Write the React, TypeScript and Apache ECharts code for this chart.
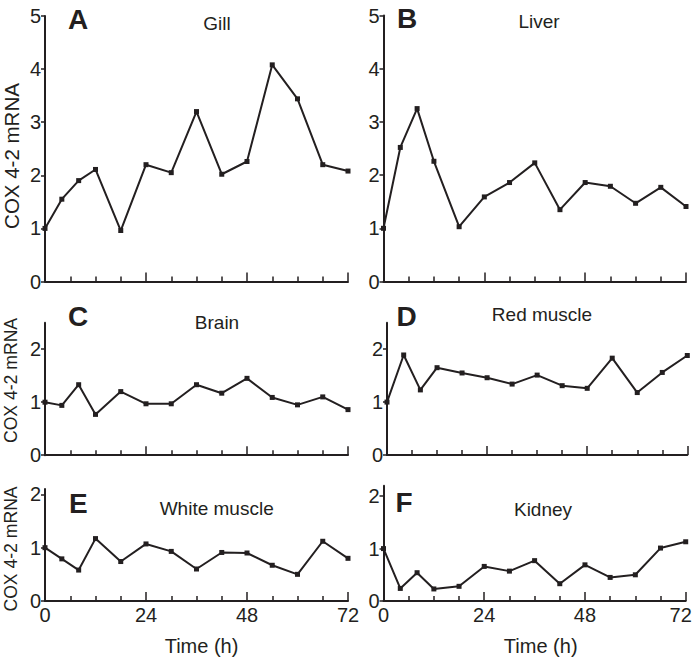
import React, { useEffect, useRef } from "react";
import * as echarts from "echarts";

const times = [0, 4, 8, 12, 18, 24, 30, 36, 42, 48, 54, 60, 66, 72];
const gill = [1.0, 1.55, 1.9, 2.11, 0.96, 2.2, 2.05, 3.2, 2.02, 2.26, 4.08, 3.44, 2.2, 2.08];
const liver = [1.0, 2.52, 3.25, 2.26, 1.03, 1.59, 1.86, 2.23, 1.35, 1.86, 1.79, 1.47, 1.77, 1.41];
const brain = [1.0, 0.94, 1.33, 0.77, 1.2, 0.97, 0.97, 1.33, 1.17, 1.45, 1.09, 0.95, 1.1, 0.86];
const redMuscle = [1.0, 1.89, 1.23, 1.65, 1.55, 1.46, 1.34, 1.51, 1.31, 1.26, 1.83, 1.18, 1.56, 1.88];
const whiteMuscle = [1.0, 0.79, 0.58, 1.17, 0.74, 1.07, 0.93, 0.6, 0.91, 0.9, 0.67, 0.5, 1.12, 0.8];
const kidney = [1.0, 0.24, 0.54, 0.23, 0.28, 0.66, 0.57, 0.77, 0.33, 0.69, 0.45, 0.5, 1.01, 1.13];

const panelLetters = ["A", "B", "C", "D", "E", "F"];
const panelNames = ["Gill", "Liver", "Brain", "Red muscle", "White muscle", "Kidney"];
const panelSeries = [gill, liver, brain, redMuscle, whiteMuscle, kidney];
const yMax = [5, 5, 2.5, 2.5, 2.1, 2.2];
const yTicksBig = [0, 1, 2, 3, 4, 5];
const yTicksSmall = [0, 1, 2];
const xTickLabels = [0, 24, 48, 72];
const yName = "COX 4-2 mRNA";
const xName = "Time (h)";

const INK = "#231f20";
const FONT = "Liberation Sans, Arial, Helvetica, sans-serif";

const grids = [
  { left: 45, top: 16, width: 303, height: 265.5 },
  { left: 383.5, top: 15.5, width: 302.5, height: 266 },
  { left: 45, top: 322.7, width: 303, height: 132.5 },
  { left: 387, top: 322.7, width: 300.3, height: 132.3 },
  { left: 45, top: 489, width: 303, height: 112 },
  { left: 383.5, top: 485.7, width: 302.2, height: 115.3 },
];

const letterPos = [
  [68, 19.5],
  [397, 18.5],
  [68, 316],
  [396.5, 316.5],
  [69, 503],
  [395.5, 502.5],
];
const namePos = [
  [217, 23.3],
  [539, 21],
  [217, 322],
  [542, 314.7],
  [216.7, 508.3],
  [543, 509],
];
const yNamePos = [
  [11, 156, 20.5],
  [11, 380.5, 17.6],
  [11, 549, 17.6],
];

function textEl(x: number, y: number, text: string, size: number, weight: string, align: string, rotation = 0) {
  return {
    type: "text",
    x,
    y,
    rotation,
    silent: true,
    style: {
      text,
      fill: INK,
      stroke: "none",
      lineWidth: 0,
      fontSize: size,
      fontFamily: FONT,
      fontWeight: weight,
      align,
      verticalAlign: "middle",
      textAlign: align,
      textVerticalAlign: "middle",
    },
  };
}

export default function App() {
  const ref = useRef<HTMLDivElement>(null);
  useEffect(() => {
    document.body.style.margin = "0";
    if (!ref.current) return;
    const chart = echarts.init(ref.current, undefined, { renderer: "svg" });

    const xAxis = grids.map((_, i) => ({
      type: "value",
      gridIndex: i,
      min: 0,
      max: 72,
      interval: 24,
      axisLine: { show: true, onZero: false, lineStyle: { color: INK, width: 2 } },
      axisTick: { show: true, inside: true, length: 9, lineStyle: { color: INK, width: 1.5 } },
      minorTick: { show: true, splitNumber: 4, length: 5, lineStyle: { color: INK, width: 1.5 } },
      splitLine: { show: false },
      minorSplitLine: { show: false },
      axisLabel: {
        show: i >= 4,
        color: INK,
        fontSize: 20,
        fontFamily: FONT,
        fontWeight: "normal",
        margin: 4,
        customValues: xTickLabels,
        formatter: (v: number) => (v === 72 && i === 5 ? "{r|72}" : String(v)),
        rich: {
          r: { fontSize: 20, fontFamily: FONT, color: INK, padding: [0, 10, 0, 0] },
        },
      },
    }));

    const yAxis = grids.map((_, i) => {
      const ticks = i < 2 ? yTicksBig : yTicksSmall;
      return {
        type: "value",
        gridIndex: i,
        min: 0,
        max: yMax[i],
        interval: 1,
        axisLine: { show: true, lineStyle: { color: INK, width: 2 } },
        axisTick: { show: true, inside: false, length: 4, lineStyle: { color: INK, width: 1.5 }, customValues: ticks },
        splitLine: { show: false },
        axisLabel: {
          show: true,
          color: INK,
          fontSize: 20,
          fontFamily: FONT,
          fontWeight: "normal",
          margin: 4,
          customValues: ticks,
        },
      };
    });

    const series = panelSeries.map((vals, i) => ({
      type: "line",
      xAxisIndex: i,
      yAxisIndex: i,
      data: times.map((t, j) => [t, vals[j]]),
      symbol: "rect",
      symbolSize: 5,
      showSymbol: true,
      clip: false,
      lineStyle: { color: INK, width: 2 },
      itemStyle: { color: INK },
    }));

    const graphics: any[] = [];
    panelLetters.forEach((l, i) => {
      graphics.push(textEl(letterPos[i][0], letterPos[i][1], l, 28, "bold", "left"));
      graphics.push(textEl(namePos[i][0], namePos[i][1], panelNames[i], 19, "normal", "center"));
    });
    yNamePos.forEach(([x, y, fs]) => {
      graphics.push(textEl(x, y, yName, fs, "normal", "center", Math.PI / 2));
    });
    [
      [201.5, 645.5],
      [540.7, 645.5],
    ].forEach(([x, y]) => {
      graphics.push(textEl(x, y, xName, 20, "normal", "center"));
    });

    chart.setOption({
      animation: false,
      backgroundColor: "#ffffff",
      grid: grids.map((g) => ({ ...g, containLabel: false, outerBoundsMode: "none" })),
      xAxis,
      yAxis,
      series,
      graphic: graphics,
    });
    return () => chart.dispose();
  }, []);
  return <div ref={ref} style={{ width: 694, height: 660 }} />;
}
